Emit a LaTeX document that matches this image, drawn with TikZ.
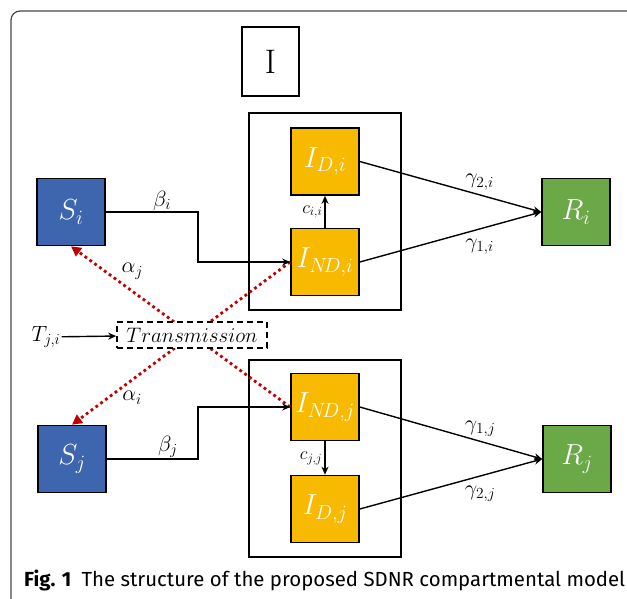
\documentclass[tikz,border=0pt]{standalone}
\usepackage{fix-cm}
\usepackage{fontspec}
\newfontfamily\capfont{Fira Sans}
\usetikzlibrary{arrows.meta,positioning}
\definecolor{sblue}{RGB}{61,102,174}
\definecolor{igold}{RGB}{247,186,0}
\definecolor{rgreen}{RGB}{106,168,72}
\definecolor{tred}{RGB}{192,0,0}
\definecolor{framegray}{RGB}{70,70,70}
\begin{document}
\begin{tikzpicture}[x=1pt,y=-1pt,
    comp/.style={draw=black,line width=1.6pt,minimum width=68pt,minimum height=67pt,
      inner sep=0pt,text=white,font=\fontsize{29}{31}\selectfont},
    grp/.style={draw=black,line width=1.8pt,minimum width=152pt,minimum height=197pt,inner sep=0pt},
    flow/.style={line width=1.4pt,-{Stealth[length=8pt,width=7pt]}},
    spread/.style={tred,line width=2.8pt,dash pattern=on 2.8pt off 3.2pt,
      -{Triangle[length=10pt,width=10pt]}},
    lbl/.style={text=black,font=\fontsize{22}{24}\selectfont,inner sep=1pt},
    small/.style={font=\fontsize{18}{20}\selectfont,inner sep=2pt}]
  \useasboundingbox (0,0) rectangle (627,598);

  % frame of the figure
  \draw[framegray,line width=1.2pt] (11,605) -- (11,20) arc[start angle=180,end angle=270,radius=9] -- (632,11);

  \node[draw,line width=1.6pt,minimum width=57pt,minimum height=69pt,
    font=\fontsize{34}{36}\selectfont] (itag) at (270.5,61.5) {I};

  \node[grp] (grpi) at (325,211.5) {};
  \node[grp] (grpj) at (325,458.5) {};

  \node[comp,fill=sblue] (si) at (71,212) {$S_i$};
  \node[comp,fill=sblue] (sj) at (72,459) {$S_j$};
  \node[comp,fill=igold] (idi) at (325,161.5) {$I_{D,i}$};
  \node[comp,fill=igold] (indi) at (325,262) {$I_{N\!D,i}$};
  \node[comp,fill=igold] (indj) at (325,407) {$I_{N\!D,j}$};
  \node[comp,fill=igold] (idj) at (325,509) {$I_{D,j}$};
  \node[comp,fill=rgreen] (ri) at (576,212) {$R_i$};
  \node[comp,fill=rgreen] (rj) at (577,459) {$R_j$};

  \coordinate (bendi) at (198,212);
  \coordinate (bendj) at (198,459);

  % transmission between the two regions
  \draw[spread] (indj.west) -- node[lbl,pos=0.78,anchor=south west]{$\alpha_j$} (si.south);
  \draw[spread] (indi.west) -- node[lbl,pos=0.78,anchor=north west]{$\alpha_i$} (sj.north);
  \node[draw,dashed,fill=white,line width=1.6pt,dash pattern=on 6pt off 4pt,
    minimum width=150pt,minimum height=26pt,inner sep=0pt,
    font=\fontsize{21}{23}\selectfont] (trans) at (192,335) {$Transmission$};
  \node[lbl] (tji) at (46,337) {$T_{j,i}$};
  \draw[flow] (tji) -- (trans);

  \draw[flow] (si.east) -- node[lbl,above,pos=0.61]{$\beta_i$} (bendi) |- (indi.west);
  \draw[flow] (sj.east) -- node[lbl,above,pos=0.67]{$\beta_j$} (bendj) |- (indj.west);

  \draw[flow] (indi) -- node[small,left]{$c_{i,i}$} (idi);
  \draw[flow] (indj) -- node[small,left]{$c_{j,j}$} (idj);

  \draw[flow] (idi.east) -- node[lbl,above=3pt,pos=0.66]{$\gamma_{2,i}$} (ri.west);
  \draw[flow] (indi.east) -- node[lbl,below=8pt,pos=0.66]{$\gamma_{1,i}$} (ri.west);
  \draw[flow] (indj.east) -- node[lbl,above=3pt,pos=0.66]{$\gamma_{1,j}$} (rj.west);
  \draw[flow] (idj.east) -- node[lbl,below=8pt,pos=0.66]{$\gamma_{2,j}$} (rj.west);

  \node[anchor=base west,inner sep=0pt,font=\capfont\fontsize{20.4}{22}\selectfont] (cap) at (24,586)
    {\textbf{Fig. 1}\hspace{0.5em}The structure of the proposed SDNR compartmental model};
\end{tikzpicture}
\end{document}
